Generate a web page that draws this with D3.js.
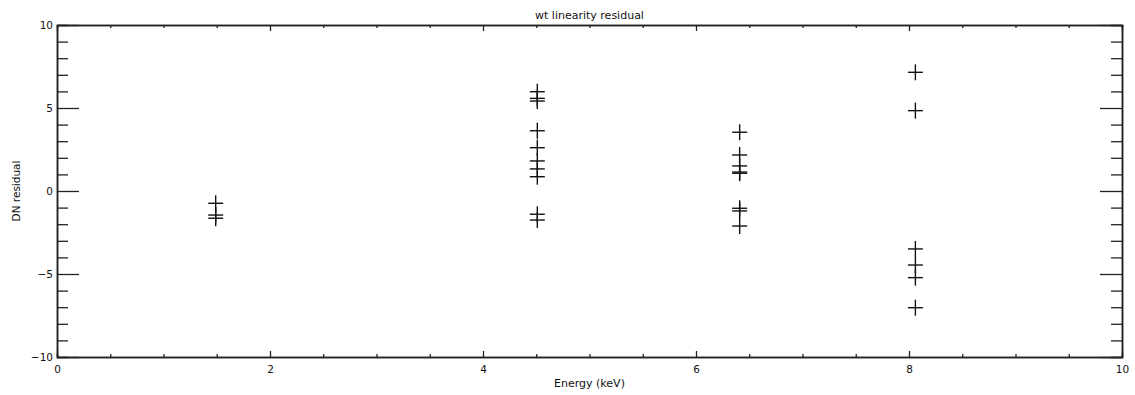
<!DOCTYPE html>
<html lang="en">
<head>
    <meta charset="UTF-8">
    <title>wt linearity residual</title>
    <style>
        body {
            margin: 0;
            background: #fff;
        }
        svg text {
            font-family: 'DejaVu Sans', sans-serif;
            fill: #111;
        }
    </style>
</head>
<body>
    <script src="https://d3js.org/d3.v7.min.js"></script>
    <script>
        const W = 1135
        const H = 395

        // line energies (keV) and the measured residuals (DN) at each
        const energies = [1.49, 4.51, 6.41, 8.06]
        const resid1 = [-0.74, -1.45, -1.64]
        const resid2 = [5.98, 5.58, 5.42, 3.63, 2.61, 1.81, 1.33, 0.86, -1.40, -1.75]
        const resid3 = [3.54, 2.17, 1.51, 1.14, 1.07, -1.04, -1.20, -2.11]
        const resid4 = [7.15, 4.84, -3.49, -4.46, -5.22, -7.03]
        const residuals = [resid1, resid2, resid3, resid4]

        const xTicks = [0, 2, 4, 6, 8, 10]
        const yTicks = [-10, -5, 0, 5, 10]

        const points = []
        residuals.forEach((arr, i) => {
            arr.forEach(v => points.push({ e: energies[i], r: v }))
        })

        const padL = 57, padR = 1122, padT = 25, padB = 357

        const x = d3.scaleLinear().domain([0, 10]).range([padL, padR])
        const y = d3.scaleLinear().domain([-10, 10]).range([padB, padT])

        const svg = d3.select('body')
            .append('svg')
            .attr('width', W)
            .attr('height', H)

        const xMinor = d3.range(0, 10.01, 0.5).filter(v => v % 2 !== 0)
        const yMinor = d3.range(-10, 10.01, 1).filter(v => v % 5 !== 0)

        // minor ticks
        svg.append('g').attr('transform', `translate(0,${padB})`)
            .call(d3.axisBottom(x).tickValues(xMinor).tickSize(-3).tickFormat(''))
        svg.append('g').attr('transform', `translate(0,${padT})`)
            .call(d3.axisTop(x).tickValues(xMinor).tickSize(-3).tickFormat(''))
        svg.append('g').attr('transform', `translate(${padL},0)`)
            .call(d3.axisLeft(y).tickValues(yMinor).tickSize(-11).tickFormat(''))
        svg.append('g').attr('transform', `translate(${padR},0)`)
            .call(d3.axisRight(y).tickValues(yMinor).tickSize(-11).tickFormat(''))

        // major ticks
        svg.append('g').attr('transform', `translate(0,${padB})`)
            .call(d3.axisBottom(x).tickValues(xTicks).tickSizeInner(-6).tickSizeOuter(0).tickPadding(9).tickFormat(d3.format('d')))
        svg.append('g').attr('transform', `translate(0,${padT})`)
            .call(d3.axisTop(x).tickValues(xTicks).tickSizeInner(-6).tickSizeOuter(0).tickFormat(''))
        const yAxis = svg.append('g').attr('transform', `translate(${padL},0)`)
            .call(d3.axisLeft(y).tickValues(yTicks).tickSizeInner(-22).tickSizeOuter(0).tickPadding(4)
                .tickFormat(d => d < 0 ? '\u2212' + Math.abs(d) : d))
        svg.append('g').attr('transform', `translate(${padR},0)`)
            .call(d3.axisRight(y).tickValues(yTicks).tickSizeInner(-22).tickSizeOuter(0).tickFormat(''))

        svg.selectAll('.domain').attr('stroke', '#222').attr('stroke-width', 1.5)
        svg.selectAll('.tick line').attr('stroke', '#222').attr('stroke-width', 1.3)
        svg.selectAll('.tick text').attr('font-size', 10.5).attr('fill', '#111')
        yAxis.selectAll('.tick text').attr('dy', '0.35em')

        // plus symbols
        const half = 7.5
        const marks = svg.append('g')
            .attr('stroke', '#111')
            .attr('stroke-width', 1.4)
        marks.selectAll('line.h')
            .data(points)
            .enter()
            .append('line')
            .attr('class', 'h')
            .attr('x1', d => x(d.e) - half)
            .attr('x2', d => x(d.e) + half)
            .attr('y1', d => y(d.r))
            .attr('y2', d => y(d.r))
        marks.selectAll('line.v')
            .data(points)
            .enter()
            .append('line')
            .attr('class', 'v')
            .attr('x1', d => x(d.e))
            .attr('x2', d => x(d.e))
            .attr('y1', d => y(d.r) - 8)
            .attr('y2', d => y(d.r) + 8)

        // titles
        svg.append('text')
            .attr('x', (padL + padR) / 2)
            .attr('y', 19)
            .attr('text-anchor', 'middle')
            .attr('font-size', 11)
            .text('wt linearity residual')

        svg.append('text')
            .attr('x', (padL + padR) / 2)
            .attr('y', 387)
            .attr('text-anchor', 'middle')
            .attr('font-size', 11)
            .text('Energy (keV)')

        svg.append('text')
            .attr('transform', `translate(20,${(padT + padB) / 2}) rotate(-90)`)
            .attr('text-anchor', 'middle')
            .attr('font-size', 10.5)
            .text('DN residual')
    </script>
</body>
</html>
